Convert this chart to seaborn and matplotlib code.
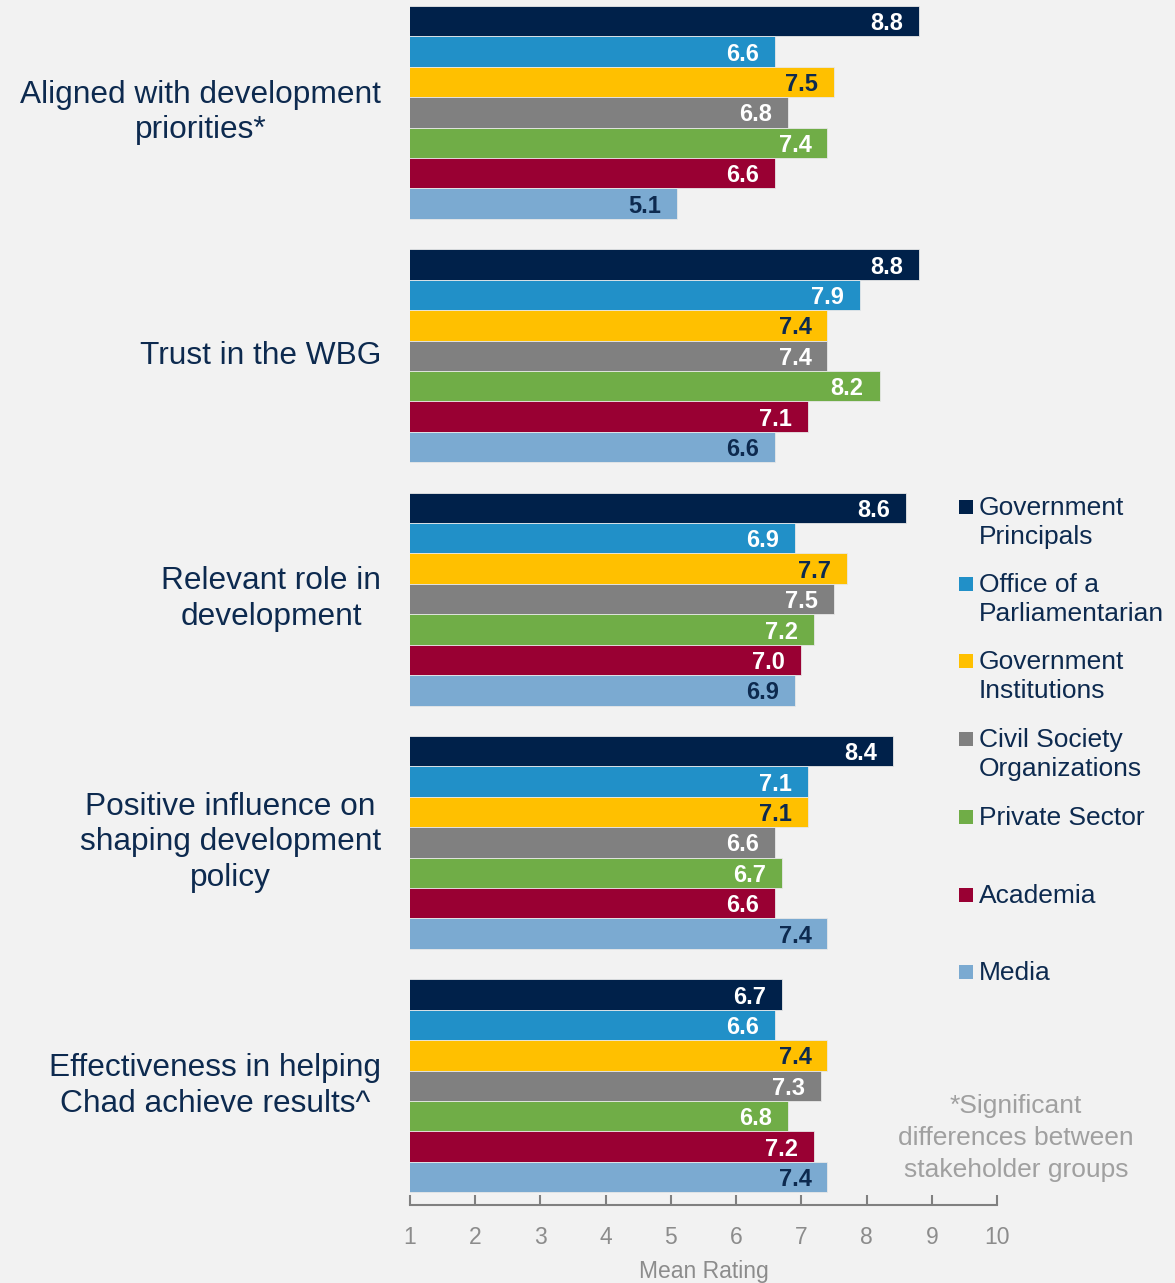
import matplotlib
matplotlib.use("Agg")
import matplotlib.pyplot as plt
import seaborn as sns
import pandas as pd
from matplotlib.patches import Rectangle

categories = [
    "Aligned with development\npriorities*",
    "Trust in the WBG",
    "Relevant role in\ndevelopment",
    "Positive influence on\nshaping development\npolicy",
    "Effectiveness in helping\nChad achieve results^",
]
groups = [
    "Government\nPrincipals",
    "Office of a\nParliamentarian",
    "Government\nInstitutions",
    "Civil Society\nOrganizations",
    "Private Sector",
    "Academia",
    "Media",
]
gov_principals = [8.8, 8.8, 8.6, 8.4, 6.7]
office_parliamentarian = [6.6, 7.9, 6.9, 7.1, 6.6]
gov_institutions = [7.5, 7.4, 7.7, 7.1, 7.4]
civil_society = [6.8, 7.4, 7.5, 6.6, 7.3]
private_sector = [7.4, 8.2, 7.2, 6.7, 6.8]
academia = [6.6, 7.1, 7.0, 6.6, 7.2]
media = [5.1, 6.6, 6.9, 7.4, 7.4]
series = [gov_principals, office_parliamentarian, gov_institutions,
          civil_society, private_sector, academia, media]
x_ticks = [1, 2, 3, 4, 5, 6, 7, 8, 9, 10]

colors = ["#00214A", "#2190C8", "#FFC000", "#808080", "#70AD47", "#990033", "#7BAAD1"]
label_colors = ["white", "white", "#0D2A4F", "white", "white", "white", "#0D2A4F"]
navy_text = "#0D2A4F"
gray_text = "#8C8C8C"
bg = "#F2F2F2"

rows = []
for g, vals in zip(groups, series):
    for c, v in zip(categories, vals):
        rows.append({"category": c, "group": g, "value": v})
df = pd.DataFrame(rows)

sns.set_theme(style="white")
plt.rcParams["font.family"] = ["Liberation Sans", "DejaVu Sans"]

fig = plt.figure(figsize=(11.75, 12.83), dpi=100, facecolor=bg)
ax = fig.add_axes([410 / 1175, (1283 - 1205) / 1283, (997 - 410) / 1175, (1205 - 6) / 1283])
ax.set_facecolor(bg)

sns.barplot(data=df, y="category", x="value", hue="group", order=categories,
            hue_order=groups, palette=colors, orient="h", width=0.875,
            dodge=True, ax=ax, legend=False, edgecolor="#E8E8E8", linewidth=0.6,
            errorbar=None, saturation=1)

ax.set_xlim(1, 10)
ax.set_ylim(4.49, -0.4375)

# value labels
for i, cont in enumerate(ax.containers):
    texts = ax.bar_label(cont, fmt="%.1f", padding=-11.5, label_type="edge",
                         color=label_colors[i], fontsize=17, fontweight="bold")
    for t in texts:
        t.set_ha("right")
        t.set_va("center_baseline")

for s in ["top", "right", "left"]:
    ax.spines[s].set_visible(False)
ax.spines["bottom"].set_color("#808080")
ax.spines["bottom"].set_linewidth(1.5)
ax.set_xticks(x_ticks)
ax.set_xticklabels([str(t) for t in x_ticks])
ax.tick_params(axis="x", direction="in", length=7, width=1.5, color="#808080",
               labelcolor=gray_text, labelsize=16.5, pad=15, bottom=True)
ax.set_xlabel("Mean Rating", color=gray_text, fontsize=16.5, labelpad=8)
ax.set_ylabel("")
ax.set_yticks(range(len(categories)))
ax.set_yticklabels([])
ax.tick_params(axis="y", length=0)

for i, c in enumerate(categories):
    ax.annotate(c, xy=(0, i), xycoords=("axes fraction", "data"),
                xytext=(-29, 0), textcoords="offset pixels",
                ha="right", va="center", multialignment="center",
                fontsize=22.8, color=navy_text, linespacing=1.25)

# legend drawn manually
leg_y = [507, 584, 661, 739, 817, 895, 972]
for g, col, y in zip(groups, colors, leg_y):
    fig.add_artist(Rectangle((959 / 1175, 1 - (y + 7) / 1283), 14 / 1175, 14 / 1283,
                             transform=fig.transFigure, facecolor=col, edgecolor="none"))
    fig.text(979 / 1175, 1 - (y - 11) / 1283, g, ha="left", va="top",
             fontsize=19, color=navy_text, linespacing=1.28)

fig.text(1016 / 1175, 1 - 1138 / 1283,
         "*Significant\ndifferences between\nstakeholder groups",
         ha="center", va="center", multialignment="center",
         fontsize=19, color="#A0A0A0", linespacing=1.4)

fig.savefig("out.png", dpi=100, facecolor=bg)
